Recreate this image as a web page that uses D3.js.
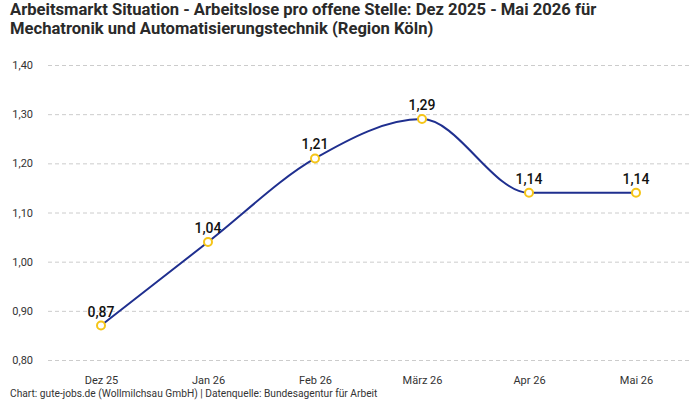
<!DOCTYPE html>
<html><head><meta charset="utf-8">
<script src="https://cdn.jsdelivr.net/npm/d3@7"></script>
<style>
body{margin:0;background:#fff;}
</style></head>
<body>
<svg id="c" width="700" height="400"></svg>
<script>
const categories = ["Dez 25","Jan 26","Feb 26","März 26","Apr 26","Mai 26"];
const values = [0.87,1.04,1.21,1.29,1.14,1.14];
const yTicks = [0.80,0.90,1.00,1.10,1.20,1.30,1.40];
const titleLines = ["Arbeitsmarkt Situation - Arbeitslose pro offene Stelle: Dez 2025 - Mai 2026 für","Mechatronik und Automatisierungstechnik (Region Köln)"];
const footer = "Chart: gute-jobs.de (Wollmilchsau GmbH) | Datenquelle: Bundesagentur für Arbeit";

const narrow = '"Liberation Sans Narrow","Roboto",sans-serif';
const svg = d3.select("#c");
const fmt = v => v.toFixed(2).replace(".", ",");
const x = d3.scalePoint().domain(categories).range([101,636]);
const y = d3.scaleLinear().domain([0.8,1.4]).range([360,65]);

svg.selectAll("text.title").data(titleLines).join("text")
  .attr("x",10).attr("y",(d,i)=>15+i*19)
  .style("font-family",narrow)
  .attr("font-size",16.6).attr("font-weight","bold").attr("fill","#2a2a2a").text(d=>d);

const ga = svg.append("g").attr("transform","translate(48,0)")
  .call(d3.axisLeft(y).tickValues(yTicks).tickFormat(fmt).tickSize(-642).tickPadding(15));
ga.select(".domain").remove();
ga.selectAll(".tick line").attr("stroke","#ccc").attr("stroke-dasharray","4,3");
ga.selectAll(".tick text").attr("font-size",11).attr("fill","#333").style("font-family",narrow);

const gx = svg.append("g").attr("transform","translate(0,360)")
  .call(d3.axisBottom(x).tickSize(0).tickPadding(16));
gx.select(".domain").remove();
gx.selectAll(".tick text").attr("font-size",11).attr("fill","#333").style("font-family",narrow);

const line = d3.line().x((d,i)=>x(categories[i])).y(d=>y(d)).curve(d3.curveMonotoneX);
svg.append("path").datum(values).attr("d",line).attr("fill","none")
  .attr("stroke","#1f2f8f").attr("stroke-width",2);

svg.selectAll("circle.pt").data(values).join("circle")
  .attr("cx",(d,i)=>x(categories[i])).attr("cy",d=>y(d)).attr("r",4)
  .attr("fill","#fff").attr("stroke","#f5c518").attr("stroke-width",2);

svg.selectAll("text.lbl").data(values).join("text")
  .attr("x",(d,i)=>x(categories[i])).attr("y",d=>y(d)-9)
  .attr("text-anchor","middle").attr("font-size",14).attr("font-weight","500")
  .attr("fill","#111").style("font-family","Roboto, sans-serif").text(fmt);

svg.append("text").attr("x",10).attr("y",397).attr("font-size",10.2).attr("fill","#333")
  .style("font-family",narrow).text(footer);
</script>
</body></html>
